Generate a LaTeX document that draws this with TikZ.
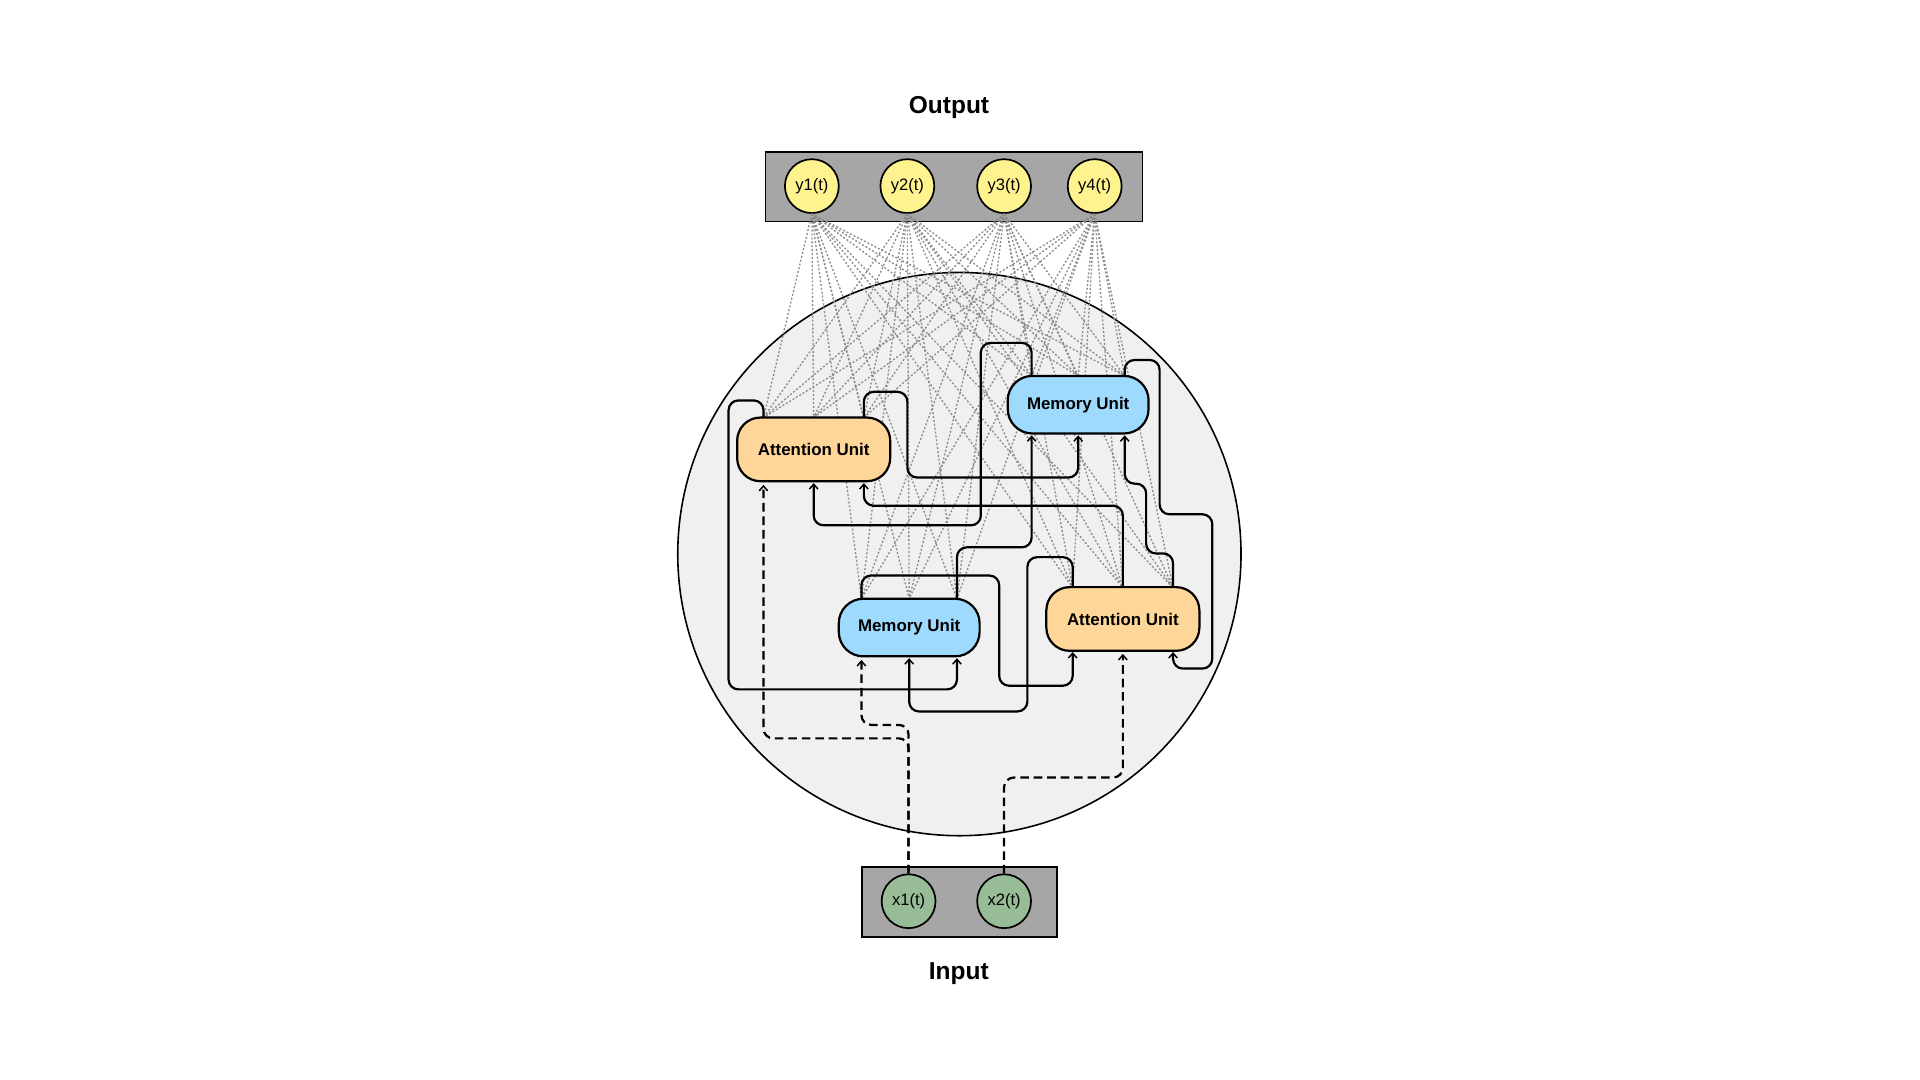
\documentclass[tikz,border=0pt]{standalone}
\usepackage{fontspec}
\setmainfont{Liberation Sans}
\usetikzlibrary{arrows.meta}
\definecolor{boxgray}{HTML}{A6A6A6}
\definecolor{ylw}{HTML}{FFF38F}
\definecolor{sage}{HTML}{97BC97}
\definecolor{attfill}{HTML}{FFD699}
\definecolor{memfill}{HTML}{9ED9FE}
\definecolor{bgfill}{HTML}{F0F0F0}
\definecolor{dotgray}{HTML}{8C8C8C}
\tikzset{
  iobox/.style={draw=black, line width=1.3pt, fill=boxgray, inner sep=0pt},
  outnode/.style={circle, draw=black, line width=1.4pt, fill=ylw, minimum size=44pt, inner sep=0pt, font=\fontsize{13.5}{16}\selectfont},
  innode/.style={circle, draw=black, line width=1.4pt, fill=sage, minimum size=44pt, inner sep=0pt, font=\fontsize{13.5}{16}\selectfont},
  attunit/.style={draw=black, line width=1.8pt, fill=attfill, rounded corners=19pt, minimum width=125pt, minimum height=52pt, inner sep=0pt, font=\fontsize{13.8}{16}\selectfont\bfseries},
  memunit/.style={draw=black, line width=1.8pt, fill=memfill, rounded corners=20pt, minimum width=115pt, minimum height=47pt, inner sep=0pt, font=\fontsize{13.8}{16}\selectfont\bfseries},
  title/.style={font=\fontsize{20}{24}\selectfont\bfseries},
  dotline/.style={draw=dotgray, line width=1.1pt, dash pattern=on 1.6pt off 1.6pt},
  edge/.style={draw=black, line width=1.8pt, rounded corners=8pt, shorten >=1.5pt, -{Straight Barb[length=4pt,width=7pt,line width=1.2pt]}},
  dashedge/.style={edge, dash pattern=on 7pt off 4pt, shorten >=3pt}
}
\begin{document}
\begin{tikzpicture}[x=1pt,y=-1pt]
\useasboundingbox (0,0) rectangle (1568,882);

% big circle background
\node[circle, draw=black, line width=1.3pt, fill=bgfill, minimum size=460pt, inner sep=0pt] (core) at (783.5,452.5) {};

% titles
\node[title] (outtitle) at (775,87.5) {Output};
\node[title] (intitle) at (783,795.5) {Input};

% output layer
\node[iobox, minimum width=308pt, minimum height=57pt] (outbox) at (779,152.5) {};
\node[outnode] (y1) at (663,152) {\raisebox{-1pt}{y1(t)}};
\node[outnode] (y2) at (741,152) {\raisebox{-1pt}{y2(t)}};
\node[outnode] (y3) at (820,152) {\raisebox{-1pt}{y3(t)}};
\node[outnode] (y4) at (894,152) {\raisebox{-1pt}{y4(t)}};

% input layer
\node[iobox, minimum width=159pt, minimum height=57pt] (inbox) at (783.5,736.5) {};
\node[innode] (x1) at (742,736) {\raisebox{-1pt}{x1(t)}};
\node[innode] (x2) at (820,736) {\raisebox{-1pt}{x2(t)}};

% ports
\coordinate (a1t1) at (623.5,341); \coordinate (a1t2) at (664.5,341); \coordinate (a1t3) at (705.5,341);
\coordinate (a1b1) at (623.5,393); \coordinate (a1b2) at (664.5,393); \coordinate (a1b3) at (705.5,393);
\coordinate (m1t1) at (842.5,307); \coordinate (m1t2) at (880.5,307); \coordinate (m1t3) at (918.5,307);
\coordinate (m1b1) at (842.5,354); \coordinate (m1b2) at (880.5,354); \coordinate (m1b3) at (918.5,354);
\coordinate (m2t1) at (703.5,489); \coordinate (m2t2) at (742.5,489); \coordinate (m2t3) at (781.5,489);
\coordinate (m2b1) at (703.5,536); \coordinate (m2b2) at (742.5,536); \coordinate (m2b3) at (781.5,536);
\coordinate (a2t1) at (876,480); \coordinate (a2t2) at (917,480); \coordinate (a2t3) at (958,480);
\coordinate (a2b1) at (876,531); \coordinate (a2b2) at (917,531); \coordinate (a2b3) at (958,531);

% dotted output connections
\foreach \yy in {y1,y2,y3,y4}{
  \foreach \pp in {a1t1,a1t2,a1t3,m1t1,m1t2,m1t3,m2t1,m2t2,m2t3,a2t1,a2t2,a2t3}{
    \draw[dotline] (\yy.south) -- (\pp);
  }
}

% units
\node[attunit] (a1) at (664.5,367) {\raisebox{-1pt}{Attention Unit}};
\node[memunit] (m1) at (880.5,330.5) {\raisebox{-1pt}{Memory Unit}};
\node[memunit] (m2) at (742.5,512.5) {\raisebox{-1pt}{Memory Unit}};
\node[attunit] (a2) at (917,505.5) {\raisebox{-1pt}{Attention Unit}};

% solid recurrent connections
\draw[edge] (a1t1) |- (595,327) |- (m2b3 |- 0,563) -- (m2b3);
\draw[edge] (a1t3) |- (741,320) |- (m1b2 |- 0,390) -- (m1b2);
\draw[edge] (m1t1) |- (801,280) |- (a1b2 |- 0,429) -- (a1b2);
\draw[edge] (m1t3) |- (947,294) |- (990,420) |- (a2b3 |- 0,546) -- (a2b3);
\draw[edge] (m2t1) |- (816,470) |- (a2b1 |- 0,560) -- (a2b1);
\draw[edge] (m2t3) |- (m1b1 |- 0,447) -- (m1b1);
\draw[edge] (a2t1) |- (839,455) |- (m2b2 |- 0,581) -- (m2b2);
\draw[edge] (a2t2) |- (a1b3 |- 0,413) -- (a1b3);
\draw[edge] (a2t3) |- (936,452) |- (m1b3 |- 0,395) -- (m1b3);

% dashed input connections
\draw[dashedge] (x1.north) |- (a1b1 |- 0,603) -- (a1b1);
\draw[dashedge] (x1.north) |- (m2b1 |- 0,592) -- (m2b1);
\draw[dashedge] (x2.north) |- (a2b2 |- 0,635) -- (a2b2);
\end{tikzpicture}
\end{document}
